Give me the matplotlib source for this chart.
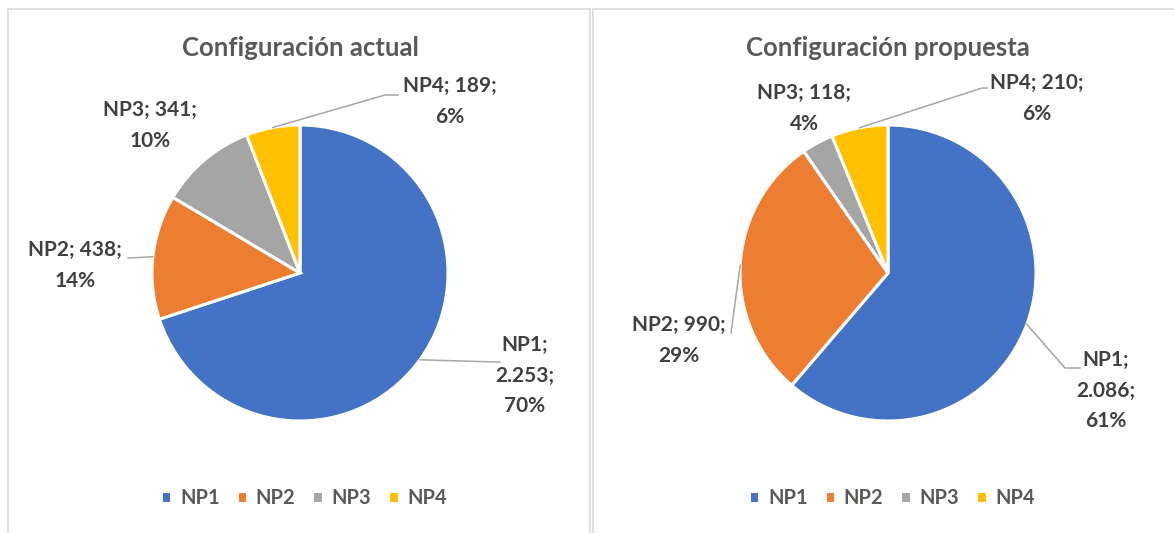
import matplotlib.pyplot as plt
from matplotlib.lines import Line2D
from matplotlib.patches import Rectangle
import numpy as np

# Data
categories = ['NP1', 'NP2', 'NP3', 'NP4']
actual = [2253, 438, 341, 189]
actual_pct = [70, 14, 10, 6]
propuesta = [2086, 990, 118, 210]
propuesta_pct = [61, 29, 4, 6]
titles = ['Configuración actual', 'Configuración propuesta']
colors = ['#4472C4', '#ED7D31', '#A5A5A5', '#FFC000']

W, H = 1174, 533
plt.rcParams['font.family'] = ['Lato', 'DejaVu Sans']
plt.rcParams['font.weight'] = 'bold'

fig = plt.figure(figsize=(W / 100, H / 100), dpi=100)


def fx(px):
    return px / W


def fy(py):
    return 1 - py / H


def fmt(v):
    return f'{v:,}'.replace(',', '.')


# chart frames
fig.patches.append(Rectangle((fx(8), fy(540)), fx(590 - 8), fy(9) - fy(540), transform=fig.transFigure,
                             fill=False, edgecolor='#D9D9D9', linewidth=1.2))
fig.patches.append(Rectangle((fx(593), fy(540)), fx(1180 - 593), fy(9) - fy(540), transform=fig.transFigure,
                             fill=False, edgecolor='#D9D9D9', linewidth=1.2))

R = 148
centers = [(300, 273), (888, 273)]

# label layout: (label centre x, first line y, elbow point or None, template)
layouts = [
    [
        (525, 347, (497, 362), '{c};\n{v};\n{p}%'),
        (75, 252, (128, 258), '{c}; {v};\n{p}%'),
        (150, 112, None, '{c}; {v};\n{p}%'),
        (450, 88, (385, 95), '{c}; {v};\n{p}%'),
    ],
    [
        (1106, 362, (1065, 368), '{c};\n{v};\n{p}%'),
        (679, 327, (731, 333), '{c}; {v};\n{p}%'),
        (804, 95, None, '{c}; {v};\n{p}%'),
        (1037, 85, (982, 88), '{c}; {v};\n{p}%'),
    ],
]
leader_end = [
    [(500, 362), None, None, (398, 95)],
    [(1080, 368), None, None, (987, 88)],
]

for i, (values, pcts) in enumerate([(actual, actual_pct), (propuesta, propuesta_pct)]):
    cx, cy = centers[i]
    ax = fig.add_axes([fx(cx - R), fy(cy + R), fx(2 * R), fy(cy - R) - fy(cy + R)])
    wedges, _ = ax.pie(values, colors=colors, startangle=90, counterclock=False,
                       wedgeprops=dict(edgecolor='white', linewidth=2.2))
    ax.set_xlim(-1, 1)
    ax.set_ylim(-1, 1)
    ax.set_aspect('auto')
    ax.axis('off')

    fig.text(fx(cx), fy(48), titles[i], ha='center', va='center', fontsize=18.5,
             color='#595959', fontweight='bold')

    for j, w in enumerate(wedges):
        lx, ly, elbow, tmpl = layouts[i][j]
        txt = tmpl.format(c=categories[j], v=fmt(values[j]), p=pcts[j])
        fig.text(fx(lx), fy(ly - 12), txt, ha='center', va='top', fontsize=15,
                 color='#404040', fontweight='bold', linespacing=1.66)
        if elbow is not None:
            theta = np.deg2rad((w.theta1 + w.theta2) / 2)
            sx = cx + R * np.cos(theta)
            sy = cy - R * np.sin(theta)
            pts = [(sx, sy), elbow]
            if leader_end[i][j] is not None:
                pts.append(leader_end[i][j])
            xs = [fx(p[0]) for p in pts]
            ys = [fy(p[1]) for p in pts]
            fig.lines.append(Line2D(xs, ys, transform=fig.transFigure, color='#A6A6A6', linewidth=1.1))

    fig.legend(wedges, categories, loc='center', bbox_to_anchor=(fx(cx + 4), fy(498)), ncol=4,
               frameon=False, fontsize=14.5, handlelength=0.5, handleheight=0.5,
               handletextpad=0.45, columnspacing=0.85, labelcolor='#595959')

fig.savefig('out.png', dpi=100)
